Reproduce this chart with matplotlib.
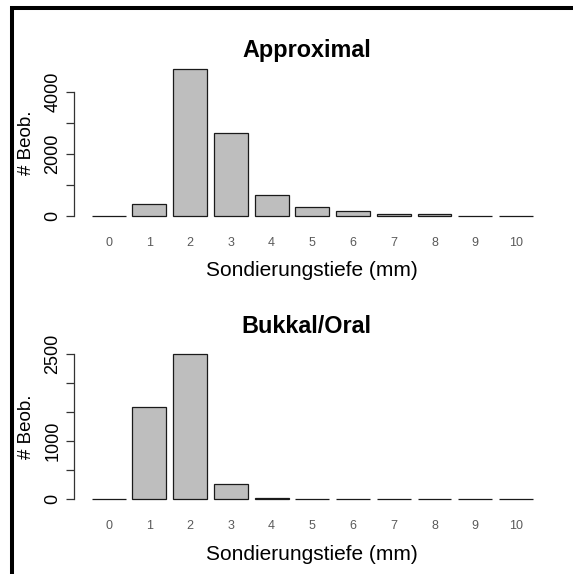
import matplotlib
matplotlib.use("Agg")
import matplotlib.pyplot as plt
from matplotlib.lines import Line2D
import numpy as np

plt.rcParams['font.family'] = ['Liberation Sans', 'DejaVu Sans']

categories = ["0", "1", "2", "3", "4", "5", "6", "7", "8", "9", "10"]
approximal = [3, 377, 4723, 2658, 668, 281, 142, 65, 40, 3, 3]
bukkal_oral = [3, 1581, 2505, 263, 30, 4, 3, 3, 3, 3, 3]

titles = ["Approximal", "Bukkal/Oral"]
xlabel = "Sondierungstiefe (mm)"
ylabel = "# Beob."
yticks_top = [0, 1000, 2000, 3000, 4000]
yticklabels_top = ["0", "", "2000", "", "4000"]
yticks_bot = [0, 500, 1000, 1500, 2000, 2500]
yticklabels_bot = ["0", "", "1000", "", "", "2500"]

W, H = 573, 574
fig = plt.figure(figsize=(W / 100, H / 100), dpi=100)

def px_axes(left, top, right, bottom):
    return fig.add_axes([left / W, 1 - bottom / H, (right - left) / W, (bottom - top) / H])

ax1 = px_axes(74, 63.4, 550.6, 221.5)
ax2 = px_axes(74, 347.7, 550.6, 505.1)

n = len(categories)
space, width = 0.2, 1.0
lefts = np.array([space + i * (space + width) for i in range(n)])
centers = lefts + width / 2
xlo, xhi = lefts.min(), lefts.max() + width
ext = 0.04 * (xhi - xlo)

for ax, vals, title, yt, ytl in [
    (ax1, approximal, titles[0], yticks_top, yticklabels_top),
    (ax2, bukkal_oral, titles[1], yticks_bot, yticklabels_bot),
]:
    ax.bar(lefts, vals, width=width, align='edge', color='#bebebe',
           edgecolor='#1a1a1a', linewidth=0.9)
    vmax = max(vals)
    ax.set_xlim(xlo - ext, xhi + ext)
    ax.set_ylim(-0.04 * vmax, 1.04 * vmax)
    for s in ['top', 'right', 'bottom']:
        ax.spines[s].set_visible(False)
    ax.spines['left'].set_bounds(yt[0], yt[-1])
    ax.spines['left'].set_color('#333333')
    ax.spines['left'].set_linewidth(0.9)
    ax.set_yticks(yt)
    ax.set_yticklabels(ytl, rotation=90, va='center', fontsize=13)
    ax.tick_params(axis='y', length=6, width=0.9, color='#333333', pad=3)
    ax.set_xticks(centers)
    ax.set_xticklabels(categories, fontsize=9, color='#5a5a5a')
    ax.tick_params(axis='x', length=0, pad=11)
    ax.set_xlabel(xlabel, fontsize=15, labelpad=9)
    ax.set_ylabel(ylabel, fontsize=13.5)
    ax.yaxis.set_label_coords((35 - 74) / 476.6, 0.5)
    ax.patch.set_visible(False)

fig.text(306.7 / W, 1 - 56.7 / H, titles[0], fontsize=16.8, fontweight='bold',
         ha='center', va='baseline')
fig.text(306.7 / W, 1 - 333.3 / H, titles[1], fontsize=16.8, fontweight='bold',
         ha='center', va='baseline')

# partial black frame (top and left)
fig.add_artist(Line2D([10 / W, 1.01], [1 - 7.5 / H, 1 - 7.5 / H], color='black',
                      linewidth=2.9, solid_capstyle='butt'))
fig.add_artist(Line2D([12 / W, 12 / W], [1 - 5.5 / H, -0.01], color='black',
                      linewidth=2.9, solid_capstyle='butt'))

fig.savefig("out.png", dpi=100)
